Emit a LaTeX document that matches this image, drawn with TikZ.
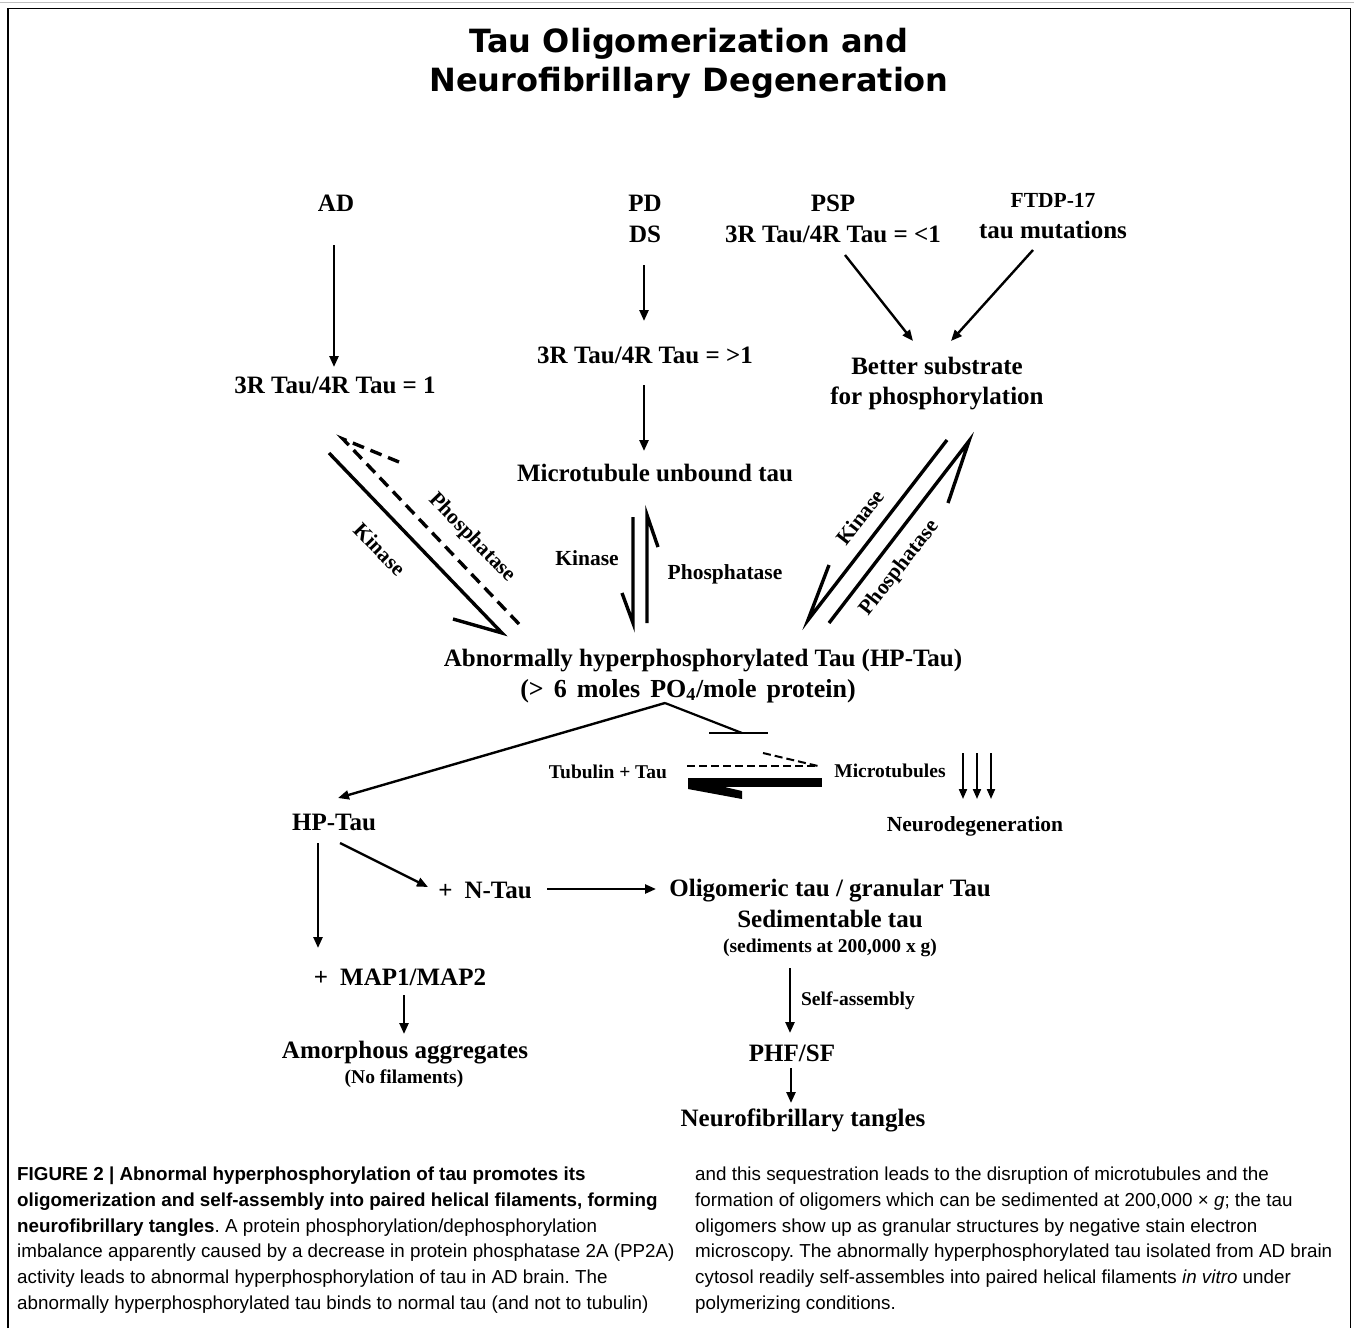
\documentclass[tikz,border=0pt]{standalone}
\usepackage{fontspec}
\setmainfont{Liberation Serif}
\newfontfamily\capfont{Liberation Sans}
\newfontfamily\ttlfont{DejaVu Sans}
\usetikzlibrary{arrows.meta}
\frenchspacing
\begin{document}
\begin{tikzpicture}[x=1pt,y=-1pt,
  ttl/.style={font=\ttlfont\bfseries\fontsize{32}{36}\selectfont, anchor=base, inner sep=0pt},
  lbl/.style={font=\bfseries\fontsize{25}{28}\selectfont, anchor=base, inner sep=0pt},
  mlbl/.style={font=\bfseries\fontsize{21.5}{24}\selectfont, anchor=base, inner sep=0pt},
  slbl/.style={font=\bfseries\fontsize{19.5}{22}\selectfont, anchor=base, inner sep=0pt},
  rlbl/.style={font=\bfseries\fontsize{21.5}{24}\selectfont, anchor=center, inner sep=0pt},
  captxt/.style={font=\capfont\fontsize{18.8}{25.8}\selectfont, anchor=base west, inner sep=0pt},
  arr/.style={line width=2.4pt, -{Triangle[length=11pt,width=9pt]}},
  sarr/.style={line width=2pt, -{Triangle[length=10pt,width=8pt]}},
  half/.style={line width=3.4pt, miter limit=20},
  halfd/.style={line width=3.4pt, dash pattern=on 12pt off 7pt},
  thinl/.style={line width=2.2pt},
  thindl/.style={line width=2pt, dash pattern=on 8pt off 4pt},
  framel/.style={line width=1.3pt}
]
\useasboundingbox (0,0) rectangle (1354,1328);
% frame
\draw[gray!50, line width=1pt] (0,2.5) -- (1354,2.5);
\draw[framel] (8,1328) -- (8,8.5) -- (1350.5,8.5) -- (1350.5,1328);

% title
\node[ttl] (t1) at (689,52) {Tau Oligomerization and};
\node[ttl] (t2) at (689,91) {Neurofibrillary Degeneration};

% top row
\node[lbl] (ad) at (336,211) {AD};
\node[lbl] (pd) at (645,211) {PD};
\node[lbl] (ds) at (645,242) {DS};
\node[lbl] (psp) at (833,211) {PSP};
\node[lbl] (psp2) at (833,242) {3R Tau/4R Tau = <1};
\node[mlbl] (ftdp) at (1053,207) {FTDP-17};
\node[lbl] (mut) at (1053,238) {tau mutations};

\node[lbl] (r1) at (335,393) {3R Tau/4R Tau = 1};
\node[lbl] (r2) at (645,363) {3R Tau/4R Tau = >1};
\node[lbl] (bs1) at (937,374) {Better substrate};
\node[lbl] (bs2) at (937,404) {for phosphorylation};
\node[lbl] (mut2) at (655,481) {Microtubule unbound tau};

\node[lbl] (hp1) at (703,666) {Abnormally hyperphosphorylated Tau (HP-Tau)};
\node[lbl, font=\bfseries\fontsize{26}{28}\selectfont] (hp2) at (688,697) {(>\hspace{10pt}6\hspace{10pt}moles\hspace{10pt}PO\textsubscript{4}/mole\hspace{10pt}protein)};

% kinase / phosphatase labels
\node[rlbl, rotate=-46] (k1) at (380,549) {Kinase};
\node[rlbl, rotate=-46] (p1) at (472,538) {Phosphatase};
\node[mlbl] (k2) at (587,565) {Kinase};
\node[mlbl] (p2) at (725,579) {Phosphatase};
\node[rlbl, rotate=52] (k3) at (860,517) {Kinase};
\node[rlbl, rotate=52] (p3) at (900,568) {Phosphatase};

% lower part
\node[slbl] (tt) at (608,778) {Tubulin + Tau};
\node[slbl] (mt) at (890,777) {Microtubules};
\node[mlbl] (nd) at (975,831) {Neurodegeneration};
\node[lbl] (hpt) at (334,830) {HP-Tau};
\node[lbl] (nt) at (485,898) {+\hspace{12pt}N-Tau};
\node[lbl] (ol1) at (830,896) {Oligomeric tau / granular Tau};
\node[lbl] (ol2) at (830,927) {Sedimentable tau};
\node[slbl] (ol3) at (830,952) {(sediments at 200,000 x g)};
\node[slbl] (sa) at (858,1005) {Self-assembly};
\node[lbl] (phf) at (792,1061) {PHF/SF};
\node[lbl] (nft) at (803,1126) {Neurofibrillary tangles};
\node[lbl] (map) at (400,985) {+\hspace{12pt}MAP1/MAP2};
\node[lbl] (am) at (405,1058) {Amorphous aggregates};
\node[slbl] (nf) at (404,1083) {(No filaments)};

% connector coordinates
\coordinate (a1s) at (334,245); \coordinate (a1e) at (334,367);
\coordinate (a2s) at (644,265); \coordinate (a2e) at (644,321);
\coordinate (a3s) at (644,385); \coordinate (a3e) at (644,451);
\coordinate (a4s) at (845,255); \coordinate (a4e) at (913,341);
\coordinate (a5s) at (1033,250); \coordinate (a5e) at (951,341);

\coordinate (lk1) at (329,453); \coordinate (lk2) at (502,633); \coordinate (lk3) at (453,619);
\coordinate (lp1) at (519,624); \coordinate (lp2) at (343,439); \coordinate (lp3) at (399,462);
\coordinate (mk1) at (633,517); \coordinate (mk2) at (633,623); \coordinate (mk3) at (622,593);
\coordinate (mp1) at (647,623); \coordinate (mp2) at (647,515); \coordinate (mp3) at (658,547);
\coordinate (rk1) at (947,440); \coordinate (rk2) at (808,620); \coordinate (rk3) at (829,565);
\coordinate (rp1) at (829,623); \coordinate (rp2) at (969,441); \coordinate (rp3) at (948,503);

\coordinate (apex) at (665,703);
\coordinate (hpe) at (338,798);
\coordinate (inh) at (742,733);
\coordinate (bar1) at (709,733); \coordinate (bar2) at (768,733);
\coordinate (dl1) at (687,766); \coordinate (dl2) at (818,766); \coordinate (dl3) at (763,753);

\draw[arr] (a1s) -- (a1e);
\draw[arr] (a2s) -- (a2e);
\draw[arr] (a3s) -- (a3e);
\draw[arr] (a4s) -- (a4e);
\draw[arr] (a5s) -- (a5e);

\draw[half] (lk1) -- (lk2) -- (lk3);
\draw[halfd] (lp1) -- (lp2) -- (lp3);
\draw[half] (mk1) -- (mk2) -- (mk3);
\draw[half] (mp1) -- (mp2) -- (mp3);
\draw[half] (rk1) -- (rk2) -- (rk3);
\draw[half] (rp1) -- (rp2) -- (rp3);

\draw[arr] (apex) -- (hpe);
\draw[thinl] (apex) -- (inh);
\draw[thinl] (bar1) -- (bar2);
\draw[thindl] (dl1) -- (dl2);
\draw[thindl] (dl3) -- (dl2);
\fill (688,778) rectangle (822,786.5);
\fill (688,778.5) -- (688,789) -- (742,799) -- (742,791) -- cycle;

\foreach \xx in {963,977,991}{
  \draw[sarr] (\xx,753) -- (\xx,799);
}

\coordinate (h1s) at (318,843); \coordinate (h1e) at (318,948);
\coordinate (h2s) at (340,843); \coordinate (h2e) at (428,887);
\coordinate (n1s) at (547,889); \coordinate (n1e) at (656,889);
\coordinate (s1s) at (790,968); \coordinate (s1e) at (790,1033);
\coordinate (p1s) at (791,1068); \coordinate (p1e) at (791,1103);
\coordinate (m1s) at (404,995); \coordinate (m1e) at (404,1034);
\draw[arr] (h1s) -- (h1e);
\draw[arr] (h2s) -- (h2e);
\draw[arr] (n1s) -- (n1e);
\draw[arr] (s1s) -- (s1e);
\draw[arr] (p1s) -- (p1e);
\draw[arr] (m1s) -- (m1e);

% caption
\node[captxt] (c1) at (17,1180.5) {\bfseries FIGURE 2 | Abnormal hyperphosphorylation of tau promotes its};
\node[captxt] (c2) at (17,1206.3) {\bfseries oligomerization and self-assembly into paired helical filaments, forming};
\node[captxt] (c3) at (17,1232.1) {\textbf{neurofibrillary tangles}. A protein phosphorylation/dephosphorylation};
\node[captxt] (c4) at (17,1257.9) {imbalance apparently caused by a decrease in protein phosphatase 2A (PP2A)};
\node[captxt] (c5) at (17,1283.7) {activity leads to abnormal hyperphosphorylation of tau in AD brain. The};
\node[captxt] (c6) at (17,1309.5) {abnormally hyperphosphorylated tau binds to normal tau (and not to tubulin)};
\node[captxt] (d1) at (695,1180.5) {and this sequestration leads to the disruption of microtubules and the};
\node[captxt] (d2) at (695,1206.3) {formation of oligomers which can be sedimented at 200,000 × \textit{g}; the tau};
\node[captxt] (d3) at (695,1232.1) {oligomers show up as granular structures by negative stain electron};
\node[captxt] (d4) at (695,1257.9) {microscopy. The abnormally hyperphosphorylated tau isolated from AD brain};
\node[captxt] (d5) at (695,1283.7) {cytosol readily self-assembles into paired helical filaments \textit{in vitro} under};
\node[captxt] (d6) at (695,1309.5) {polymerizing conditions.};
\end{tikzpicture}
\end{document}
